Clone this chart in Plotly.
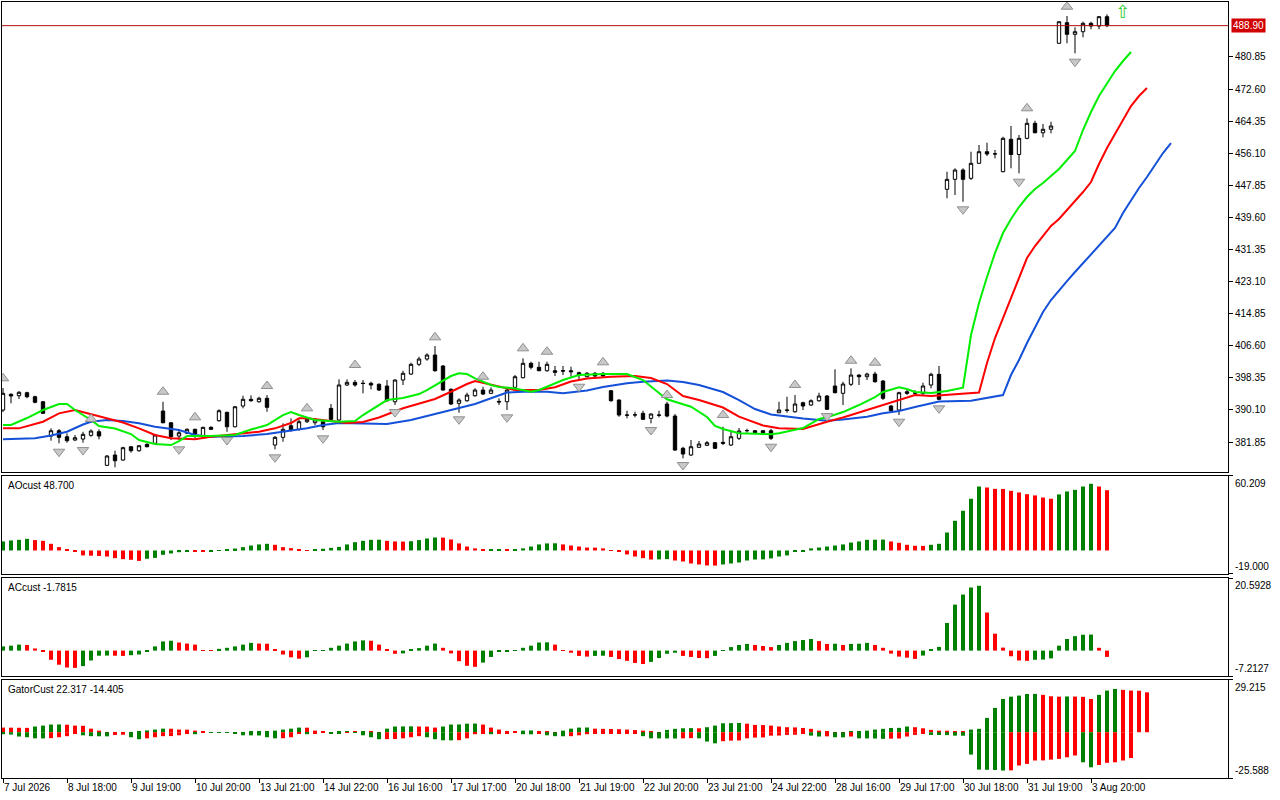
import plotly.graph_objects as go
from plotly.subplots import make_subplots

# ---------------- price data (one candle per bar index) ----------------
opens = [390.08, 394.12, 393.76, 394.53, 393.50, 392.21, 383.39, 384.76, 383.21, 382.37,
         382.62, 383.57, 384.50, 375.86, 378.51, 377.22, 380.64, 379.62, 381.26, 381.52,
         389.82, 386.81, 383.39, 384.09, 385.12, 383.39, 385.63, 387.33, 389.49, 385.78,
         391.11, 392.83, 392.21, 393.09, 381.08, 383.06, 386.04, 385.12, 387.07, 386.81,
         387.07, 390.51, 387.51, 396.51, 397.20, 396.98, 396.94, 396.69, 396.25, 392.21,
         397.79, 399.33, 401.83, 403.19, 404.22, 401.39, 395.40, 391.80, 392.47, 393.76,
         395.22, 394.37, 392.30, 392.21, 395.91, 398.38, 402.09, 401.06, 400.18, 400.18,
         400.20, 400.18, 399.67, 398.64, 399.52, 399.52, 395.04, 392.65, 388.80, 388.80,
         389.23, 387.94, 388.79, 391.62, 388.53, 380.23, 378.51, 380.49, 381.00, 381.67,
         381.77, 381.08, 382.80, 384.76, 384.76, 384.76, 384.76, 389.38, 390.10, 389.64,
         391.96, 391.36, 392.47, 393.68, 396.25, 394.37, 396.69, 399.07, 398.64, 399.33,
         397.53, 391.11, 390.08, 394.78, 394.40, 394.37, 396.51, 399.26, 446.82, 449.39,
         451.78, 449.65, 453.51, 456.49, 455.90, 451.35, 459.68, 455.77, 459.93, 463.79,
         461.37, 462.25, 484.36, 489.65, 486.67, 487.34, 489.50, 488.80, 491.20]
highs = [395.74, 394.37, 394.96, 394.78, 393.76, 392.39, 385.37, 385.19, 384.09, 383.65,
         384.50, 385.12, 385.12, 378.51, 379.62, 380.64, 380.82, 381.08, 381.52, 383.91,
         392.21, 386.99, 385.12, 385.37, 385.27, 385.78, 385.89, 390.26, 389.64, 391.11,
         393.76, 393.86, 393.50, 393.93, 383.39, 386.66, 387.94, 387.69, 388.28, 388.02,
         387.51, 391.62, 397.97, 397.97, 397.79, 397.79, 397.36, 396.94, 397.79, 397.97,
         400.18, 402.24, 403.78, 404.66, 406.53, 401.65, 395.66, 393.09, 394.53, 395.66,
         396.07, 395.91, 393.09, 396.07, 399.07, 403.37, 402.50, 402.50, 402.50, 401.39,
         401.39, 401.22, 399.93, 399.85, 399.85, 399.85, 395.22, 392.83, 389.90, 389.64,
         389.90, 389.23, 389.90, 392.21, 389.05, 380.64, 382.37, 382.11, 382.11, 381.85,
         385.78, 384.50, 385.45, 385.27, 384.93, 384.93, 385.27, 392.21, 393.50, 393.93,
         392.21, 392.83, 394.53, 393.93, 400.54, 397.36, 400.80, 399.25, 399.67, 399.93,
         397.79, 391.36, 394.78, 395.22, 395.20, 397.10, 399.67, 401.39, 451.35, 452.22,
         452.22, 456.49, 458.21, 458.80, 456.93, 460.34, 463.10, 460.78, 465.07, 464.46,
         463.61, 464.20, 490.00, 491.38, 488.47, 489.91, 489.91, 491.38, 491.81]
lows = [389.56, 391.80, 392.91, 393.09, 391.80, 389.10, 382.19, 381.52, 381.67, 382.11,
        381.67, 383.21, 382.54, 375.68, 375.35, 377.04, 379.10, 379.36, 380.49, 381.34,
        386.66, 382.37, 382.37, 383.91, 382.80, 383.21, 384.93, 387.07, 384.50, 385.63,
        390.51, 392.21, 391.96, 389.64, 379.97, 381.93, 384.50, 384.76, 386.74, 386.22,
        384.93, 387.33, 387.33, 396.25, 396.07, 394.37, 395.40, 394.96, 392.21, 391.36,
        396.51, 399.07, 401.39, 402.75, 399.93, 395.04, 391.36, 389.38, 392.21, 393.50,
        393.93, 394.19, 391.36, 390.08, 395.66, 398.23, 400.54, 400.10, 399.93, 398.82,
        399.07, 398.64, 397.79, 398.47, 398.47, 398.64, 392.21, 388.35, 387.94, 388.20,
        387.51, 386.66, 388.20, 388.20, 379.60, 377.66, 378.25, 380.31, 380.82, 380.05,
        381.08, 380.82, 382.37, 384.24, 384.16, 384.16, 382.37, 389.38, 389.38, 389.38,
        390.08, 391.11, 392.21, 390.08, 394.37, 391.36, 396.25, 396.51, 397.79, 397.10,
        392.65, 389.64, 388.79, 393.93, 393.70, 393.93, 395.66, 392.65, 444.51, 445.36,
        443.63, 449.21, 453.32, 455.38, 454.79, 451.20, 452.22, 450.93, 459.68, 461.22,
        460.19, 461.22, 484.20, 484.36, 481.79, 485.90, 487.96, 487.96, 488.47]
closes = [394.37, 393.68, 394.63, 393.50, 392.06, 389.23, 384.76, 383.06, 382.19, 382.96,
          383.83, 384.68, 383.39, 378.25, 377.04, 380.39, 379.62, 380.90, 380.64, 383.65,
          386.81, 383.21, 384.24, 385.12, 383.91, 385.63, 385.12, 389.90, 385.78, 390.93,
          392.83, 392.47, 393.09, 390.77, 383.06, 385.12, 384.93, 387.07, 387.69, 387.51,
          385.78, 387.69, 396.51, 397.20, 396.51, 396.90, 396.51, 395.22, 392.47, 397.79,
          399.52, 401.83, 403.19, 404.22, 400.18, 395.22, 391.62, 392.65, 393.93, 395.22,
          394.19, 395.22, 392.15, 395.22, 398.64, 402.09, 401.06, 400.18, 401.83, 399.77,
          400.10, 399.93, 399.07, 399.52, 398.82, 398.82, 392.47, 388.79, 388.75, 388.85,
          387.69, 389.05, 388.75, 388.53, 379.79, 378.76, 380.64, 381.34, 381.67, 380.23,
          381.52, 383.21, 384.68, 384.80, 384.24, 384.24, 382.80, 390.08, 390.00, 391.62,
          391.11, 392.47, 393.68, 390.26, 394.53, 396.76, 399.07, 398.64, 399.33, 397.36,
          393.09, 389.90, 394.53, 394.37, 394.45, 396.25, 399.26, 392.83, 449.39, 451.78,
          449.39, 453.51, 456.49, 455.90, 455.95, 459.93, 455.77, 459.93, 463.79, 461.37,
          462.25, 463.10, 489.91, 486.67, 487.34, 489.50, 488.80, 491.20, 488.90]
bar_index = list(range(len(opens)))

# ---------------- Alligator lines (read at sampled bars) ----------------
lips_index = [0, 1, 3, 5, 7, 8, 9, 11, 12, 14, 16, 17, 19, 21, 22, 23, 26, 29, 31, 33,
              35, 36, 37, 39, 42, 44, 45, 47, 48, 50, 52, 53, 55, 56, 57, 58, 59, 61, 62, 64,
              66, 67, 68, 70, 72, 75, 78, 80, 82, 83, 86, 88, 89, 90, 92, 96, 97, 100, 102, 103,
              105, 107, 109, 110, 112, 113, 114, 116, 118, 120, 121, 122, 123, 124, 125, 126, 127,
              128, 129, 130, 131, 132, 133, 134, 135, 136, 137, 138, 139, 140, 141]
lips_price = [386.22, 386.22, 388.02, 390.08, 391.62, 391.62, 390.08, 387.51, 385.97, 385.32,
              383.91, 382.37, 381.34, 381.08, 382.11, 383.39, 383.39, 383.65, 385.07, 386.22,
              388.79, 389.56, 388.79, 387.51, 387.07, 387.25, 388.79, 391.36, 392.65, 393.16,
              394.19, 395.22, 397.53, 398.82, 399.52, 399.33, 398.23, 396.51, 395.99, 395.61,
              394.78, 395.22, 396.07, 397.79, 399.08, 399.33, 399.33, 397.79, 394.45, 392.83,
              390.93, 388.28, 385.97, 385.19, 384.09, 383.83, 384.09, 385.45, 387.77, 388.20,
              389.56, 391.36, 393.42, 394.71, 395.92, 395.48, 394.71, 394.45, 394.96, 395.81,
              409.36, 417.59, 424.27, 430.44, 435.59, 439.19, 442.27, 444.84, 446.90, 448.44,
              450.24, 452.04, 454.35, 456.67, 462.07, 466.69, 470.81, 474.15, 477.24, 479.81, 482.12]
teeth_index = [0, 2, 5, 7, 9, 11, 12, 15, 17, 19, 21, 24, 26, 28, 30, 32, 34, 36, 37, 38,
               41, 43, 45, 47, 50, 52, 54, 56, 58, 59, 61, 62, 64, 67, 69, 71, 73, 76, 79, 81,
               83, 85, 87, 90, 92, 95, 97, 100, 101, 103, 105, 108, 110, 112, 114, 116, 119, 122,
               123, 124, 125, 126, 127, 128, 129, 130, 131, 132, 133, 134, 135, 136, 137, 138,
               139, 140, 141, 142, 143]
teeth_price = [385.37, 385.37, 387.07, 389.23, 390.08, 389.05, 388.36, 386.87, 385.37, 383.65,
               382.80, 382.55, 383.22, 383.65, 384.09, 384.50, 385.37, 386.74, 387.94, 387.94,
               387.25, 386.74, 386.99, 388.15, 390.52, 391.75, 392.91, 394.78, 396.76, 397.53,
               396.63, 395.99, 395.22, 395.22, 395.92, 397.41, 398.18, 398.64, 398.82, 398.31,
               396.76, 393.68, 392.65, 390.72, 388.36, 386.09, 385.37, 385.19, 385.84, 387.07,
               388.15, 390.08, 391.24, 392.65, 393.94, 393.68, 394.06, 394.58,
               402.16, 408.59, 413.73, 418.87, 424.02, 429.16, 432.24, 434.81, 437.39, 439.19,
               441.50, 443.56, 446.13, 448.70, 453.33, 457.44, 461.04, 464.64, 468.24, 470.81, 472.87]
jaw_index = [0, 2, 4, 6, 8, 10, 11, 13, 15, 17, 19, 22, 24, 26, 30, 33, 36, 38, 40, 42,
             48, 51, 54, 56, 59, 61, 63, 65, 68, 70, 73, 75, 78, 80, 83, 85, 87, 90, 92, 94,
             96, 100, 103, 105, 108, 110, 112, 114, 117, 121, 124, 125, 126, 127, 128, 129, 130,
             131, 132, 133, 134, 135, 136, 137, 138, 139, 140, 141, 142, 143, 144, 145, 146]
jaw_price = [382.55, 382.62, 382.80, 383.52, 384.50, 386.35, 387.07, 387.51, 387.25, 386.66,
             385.79, 384.94, 383.65, 383.22, 383.39, 383.91, 384.68, 385.37, 386.22, 386.74,
             386.48, 387.51, 389.05, 390.08, 391.62, 393.09, 394.58, 394.78, 394.78, 394.37,
             395.09, 395.99, 396.94, 397.36, 397.66, 397.28, 396.51, 394.71, 392.65, 390.34,
             388.92, 387.89, 387.33, 387.64, 388.36, 389.23, 389.82, 390.85, 392.26, 392.47,
             393.42, 393.93, 399.08, 402.93, 407.30, 411.42, 415.27, 418.36, 420.93, 423.24,
             425.56, 427.87, 430.19, 432.50, 434.81, 436.87, 440.73, 444.07, 447.16, 449.98,
             453.07, 456.15, 458.72]

# ---------------- Fractals and signal ----------------
fractal_up_index = [0, 11, 20, 24, 33, 38, 44, 54, 60, 65, 68, 75, 83, 90, 99, 106, 109, 128, 133]
fractal_up_price = [398.23, 387.77, 394.78, 388.20, 396.25, 390.51, 401.65, 408.77, 398.64, 405.94,
                    405.07, 402.34, 393.93, 388.79, 396.51, 402.75, 402.24, 467.65, 493.77]
fractal_down_index = [7, 10, 14, 22, 28, 34, 40, 49, 57, 63, 72, 81, 85, 96, 103, 112, 117, 120, 127, 134]
fractal_down_price = [379.36, 379.79, 373.96, 379.97, 382.37, 377.92, 382.80, 389.56, 387.69, 388.20,
                      396.07, 384.94, 375.94, 380.64, 388.53, 387.07, 390.51, 441.68, 448.77, 479.63]
signal_index = [140]
signal_price = [491.9]

# ---------------- Oscillators ----------------
ao_values = [7.3, 8.1, 8.6, 9.4, 8.4, 7.8, 5.4, 2.7, 0.5, -1.1,
             -4.0, -4.2, -4.4, -4.9, -6.2, -7.0, -7.5, -8.4, -6.7, -6.0,
             -3.5, -2.4, -1.4, -0.6, -0.7, -0.8, -0.5, -0.2, 0.5, 1.6,
             2.7, 4.0, 4.9, 5.4, 4.6, 2.7, 1.9, 0.5, -0.3, 1.1,
             1.4, 2.1, 2.9, 4.9, 6.7, 7.8, 8.6, 8.7, 7.8, 7.3,
             7.2, 7.5, 8.4, 9.7, 10.5, 10.4, 8.9, 5.7, 3.2, 1.7,
             0.5, 0.6, 0.7, 0.6, 0.7, 1.7, 3.2, 4.9, 5.7, 5.8,
             4.9, 4.0, 3.2, 2.4, 2.3, 1.7, -0.3, -0.5, -3.2, -4.9,
             -6.2, -7.3, -7.2, -7.0, -8.1, -8.9, -10.5, -11.3, -12.1, -12.2,
             -11.3, -10.5, -9.7, -8.1, -7.3, -7.2, -6.4, -4.9, -4.0, -1.1,
             -0.6, 1.7, 2.4, 3.2, 4.0, 4.9, 6.4, 7.3, 8.6, 8.7,
             8.8, 7.3, 6.2, 4.6, 3.8, 3.7, 4.6, 5.4, 14.5, 24.0,
             32.1, 41.8, 51.7, 50.9, 49.8, 49.7, 48.2, 46.9, 45.5, 44.5,
             42.8, 41.8, 45.3, 47.7, 49.0, 51.7, 53.9, 51.7, 48.7]
ac_values = [1.2, 1.4, 1.7, 1.6, 0.6, -0.2, -2.6, -4.0, -4.8, -4.9,
             -4.4, -2.8, -1.45, -1.4, -1.45, -1.5, -1.3, -1.1, -0.2, 1.2,
             2.6, 2.8, 2.3, 2.0, 1.7, 0.1, -0.1, 0.5, 0.8, 1.2,
             1.7, 2.2, 2.0, 1.95, 0.3, -1.1, -1.9, -2.3, -1.9, 0.05,
             0.1, 0.8, 1.4, 2.0, 2.6, 2.9, 2.8, 1.7, 0.3, -0.9,
             -0.8, 0.3, 0.7, 1.4, 2.0, 0.8, -0.8, -3.0, -4.3, -4.6,
             -3.4, -1.8, -0.4, -0.2, 0.1, 0.8, 1.4, 2.3, 2.35, 1.7,
             0.1, -0.6, -1.5, -1.7, -1.5, -1.45, -1.8, -2.4, -2.9, -3.5,
             -3.8, -3.2, -2.1, -0.9, -0.6, -1.5, -1.8, -2.1, -2.15, -1.5,
             0.15, 1.0, 1.6, 1.9, 1.6, 1.3, 1.0, 1.6, 2.2, 2.7,
             3.0, 3.3, 2.7, 1.9, 1.95, 1.6, 1.9, 1.95, 2.2, 1.6,
             0.8, -0.85, -1.7, -2.0, -2.35, -1.4, 0.25, 1.05, 7.85, 13.05,
             15.9, 17.9, 18.4, 10.8, 4.8, 0.85, -1.6, -2.8, -2.9, -2.6,
             -2.55, -2.2, 1.4, 3.3, 4.1, 4.5, 4.55, 0.8, -1.7815]
gator_upper = [2.6, 2.55, 2.5, 2.45, 3.2, 3.7, 4.3, 4.35, 4.2, 3.7,
               3.6, 2.0, 0.9, 0.1, 0.05, 0.04, 0.1, 0.3, 1.0, 1.5,
               2.0, 1.95, 1.5, 1.45, 0.9, 0.3, 0.1, 0.04, 0.05, 0.06,
               0.1, 0.15, 0.4, 0.5, 0.9, 1.5, 2.0, 2.6, 2.55, 0.9,
               0.4, 0.1, 0.15, 0.3, 0.2, 0.4, 0.2, 0.1, 2.0, 3.2,
               3.25, 3.3, 3.2, 3.15, 2.6, 3.2, 4.3, 4.35, 4.8, 4.85,
               4.3, 2.6, 1.5, 0.4, 0.35, 0.9, 1.0, 0.4, 0.35, 0.1,
               0.9, 2.0, 2.6, 2.65, 2.0, 1.9, 1.8, 1.7, 1.5, 1.2,
               0.9, 0.4, 0.1, 1.3, 1.9, 2.2, 2.3, 2.2, 2.8, 3.7,
               5.0, 5.1, 5.2, 4.8, 4.1, 4.0, 3.7, 3.2, 2.8, 2.7,
               2.4, 1.9, 0.9, 0.4, 0.1, 0.05, 0.4, 0.6, 0.9, 1.5,
               1.9, 2.4, 2.45, 3.2, 2.8, 2.2, 1.3, 0.9, 0.85, 0.5,
               0.3, 1.5, 1.9, 8.0, 13.6, 18.6, 19.9, 20.5, 21.4, 21.45,
               20.9, 20.1, 19.9, 20.0, 19.95, 19.8, 18.6, 20.9, 23.3, 24.2,
               23.7, 23.3, 23.2, 22.317]
gator_lower = [1.1, 1.3, 2.4, 2.8, 3.4, 3.45, 3.3, 2.8, 2.2, 0.6,
               1.7, 2.2, 2.25, 2.3, 1.5, 1.4, 2.8, 3.9, 3.4, 2.8,
               2.2, 2.15, 1.7, 0.6, 1.1, 0.2, 0.3, 0.35, 0.4, 0.45,
               1.7, 1.75, 1.8, 2.8, 3.4, 3.35, 2.8, 0.6, 1.1, 0.5,
               0.4, 0.45, 0.5, 0.35, 0.4, 1.7, 2.8, 3.9, 3.85, 3.8,
               3.4, 2.8, 2.2, 2.8, 3.9, 4.5, 4.55, 4.45, 3.4, 1.1,
               0.6, 1.1, 0.5, 0.45, 0.4, 1.1, 1.15, 0.5, 1.7, 2.2,
               2.25, 2.2, 1.7, 1.1, 1.0, 0.9, 0.8, 0.7, 0.6, 0.55,
               2.2, 3.4, 3.42, 3.45, 3.5, 3.4, 3.3, 3.4, 5.2, 6.2,
               5.0, 4.7, 4.6, 3.4, 3.0, 2.9, 1.9, 1.85, 1.5, 1.4,
               0.9, 1.9, 2.4, 2.3, 2.8, 2.85, 2.4, 3.4, 3.45, 3.5,
               3.7, 3.6, 3.5, 2.4, 1.5, 0.6, 1.5, 1.55, 1.6, 1.9,
               1.95, 12.5, 20.9, 21.0, 21.1, 21.4, 21.3, 18.6, 17.7, 15.8,
               15.75, 15.3, 14.9, 14.0, 13.0, 16.8, 19.6, 18.3, 17.1, 16.8,
               15.8, 14.405]

# ---------------- Axis labels / scales ----------------
x_label_index = [0, 8, 16, 24, 32, 40, 48, 56, 64, 72, 80, 88, 96, 104, 112, 120, 128, 136]
x_labels = ["7 Jul 2026", "8 Jul 18:00", "9 Jul 19:00", "10 Jul 20:00", "13 Jul 21:00",
            "14 Jul 22:00", "16 Jul 16:00", "17 Jul 17:00", "20 Jul 18:00", "21 Jul 19:00",
            "22 Jul 20:00", "23 Jul 21:00", "24 Jul 22:00", "28 Jul 16:00", "29 Jul 17:00",
            "30 Jul 18:00", "31 Jul 19:00", "3 Aug 20:00"]
price_ticks = [381.85, 390.10, 398.35, 406.60, 414.85, 423.10, 431.35, 439.60,
               447.85, 456.10, 464.35, 472.60, 480.85]
price_range = [374.14, 494.98]
ao_scale = [-19.000, 60.209]
ac_scale = [-7.2127, 20.5928]
gator_scale = [-25.588, 29.215]

GREEN = "#008000"
RED = "#ff0000"
FONT = "Liberation Sans"


def trend_colors(vals, first):
    out = [first]
    for prev, cur in zip(vals, vals[1:]):
        out.append(GREEN if cur > prev else RED)
    return out


fig = make_subplots(rows=4, cols=1, shared_xaxes=False, vertical_spacing=0.0)

# main panel
fig.add_trace(go.Candlestick(
    x=bar_index, open=opens, high=highs, low=lows, close=closes,
    increasing=dict(fillcolor="white", line=dict(color="black", width=1)),
    decreasing=dict(fillcolor="black", line=dict(color="black", width=1)),
    whiskerwidth=0, hoverinfo="skip", showlegend=False), row=1, col=1)
fig.add_trace(go.Scatter(x=jaw_index, y=jaw_price, mode="lines",
                         line=dict(color="#1450d8", width=2), hoverinfo="skip"), row=1, col=1)
fig.add_trace(go.Scatter(x=teeth_index, y=teeth_price, mode="lines",
                         line=dict(color="#ff0000", width=2), hoverinfo="skip"), row=1, col=1)
fig.add_trace(go.Scatter(x=lips_index, y=lips_price, mode="lines",
                         line=dict(color="#00ee00", width=2), hoverinfo="skip"), row=1, col=1)
fig.add_trace(go.Scatter(x=fractal_up_index, y=fractal_up_price, mode="markers",
                         marker=dict(symbol="triangle-up", size=10, color="#c8c8c8",
                                     line=dict(color="#909090", width=1)),
                         hoverinfo="skip"), row=1, col=1)
fig.add_trace(go.Scatter(x=fractal_down_index, y=fractal_down_price, mode="markers",
                         marker=dict(symbol="triangle-down", size=10, color="#c8c8c8",
                                     line=dict(color="#909090", width=1)),
                         hoverinfo="skip"), row=1, col=1)
fig.add_trace(go.Scatter(x=signal_index, y=signal_price, mode="text", text=["\u21e7"],
                         textposition="middle center", cliponaxis=False,
                         textfont=dict(family="DejaVu Sans", size=18, color="#2ecc2e"),
                         hoverinfo="skip"), row=1, col=1)

# AO
fig.add_trace(go.Bar(x=bar_index, y=ao_values, width=0.5,
                     marker=dict(color=trend_colors(ao_values, GREEN), line=dict(width=0)),
                     hoverinfo="skip"), row=2, col=1)
# AC
fig.add_trace(go.Bar(x=bar_index, y=ac_values, width=0.5,
                     marker=dict(color=trend_colors(ac_values, GREEN), line=dict(width=0)),
                     hoverinfo="skip"), row=3, col=1)
# Gator
fig.add_trace(go.Bar(x=list(range(len(gator_upper))), y=gator_upper, width=0.5,
                     marker=dict(color=trend_colors(gator_upper, RED), line=dict(width=0)),
                     hoverinfo="skip"), row=4, col=1)
fig.add_trace(go.Bar(x=list(range(len(gator_lower))), y=[-v for v in gator_lower], width=0.5,
                     marker=dict(color=trend_colors(gator_lower, GREEN), line=dict(width=0)),
                     hoverinfo="skip"), row=4, col=1)

x_range = [-0.125, 153.125]
common_x = dict(range=x_range, showline=True, linecolor="black", linewidth=1, mirror=True,
                showgrid=False, zeroline=False, fixedrange=True)
common_y = dict(showline=True, linecolor="black", linewidth=1, mirror=True, side="right",
                showgrid=False, zeroline=False, fixedrange=True, ticks="outside", ticklen=4,
                tickcolor="black")

fig.update_layout(
    width=1280, height=800,
    margin=dict(l=2, r=52, t=2, b=22),
    plot_bgcolor="white", paper_bgcolor="white",
    showlegend=False, barmode="overlay", boxgap=0.4, hovermode=False,
    font=dict(family=FONT, size=10, color="black"),
    xaxis=dict(**common_x, showticklabels=False, rangeslider=dict(visible=False)),
    xaxis2=dict(**common_x, showticklabels=False),
    xaxis3=dict(**common_x, showticklabels=False),
    xaxis4=dict(**common_x, tickmode="array", tickvals=x_label_index, ticktext=x_labels,
                ticks="outside", ticklen=4, tickcolor="black",
                ticklabelposition="outside right", tickfont=dict(family=FONT, size=10)),
    yaxis=dict(**common_y, domain=[0.3943, 1.0], range=price_range, tickmode="array",
               tickvals=price_ticks, ticktext=[f"{v:.2f}" for v in price_ticks],
               tickfont=dict(family=FONT, size=10)),
    yaxis2=dict(**common_y, domain=[0.2629, 0.3892], range=ao_scale, tickmode="array",
                tickvals=ao_scale, showticklabels=False),
    yaxis3=dict(**common_y, domain=[0.1314, 0.2577], range=ac_scale, tickmode="array",
                tickvals=ac_scale, showticklabels=False),
    yaxis4=dict(**common_y, domain=[0.0, 0.1263], range=gator_scale, tickmode="array",
                tickvals=gator_scale, showticklabels=False),
)

# current price line and label
last_close = closes[-1]
fig.add_shape(type="line", xref="x domain", x0=0, x1=1, yref="y", y0=last_close, y1=last_close,
              line=dict(color="#b01010", width=1))
fig.add_annotation(xref="paper", x=1, xanchor="left", xshift=3, yref="y", y=last_close,
                   text=f"{last_close:.2f}", showarrow=False, bgcolor="#d00000",
                   font=dict(family=FONT, size=10, color="white"), borderpad=1)

# sub-panel scale labels
for axis, scale, fmt in (("y2", ao_scale, "{:.3f}"), ("y3", ac_scale, "{:.4f}"),
                         ("y4", gator_scale, "{:.3f}")):
    fig.add_annotation(xref="paper", x=1, xanchor="left", xshift=5, yref=axis, y=scale[1],
                       yanchor="top", text=fmt.format(scale[1]), showarrow=False,
                       font=dict(family=FONT, size=10))
    fig.add_annotation(xref="paper", x=1, xanchor="left", xshift=5, yref=axis, y=scale[0],
                       yanchor="bottom", text=fmt.format(scale[0]), showarrow=False,
                       font=dict(family=FONT, size=10))

# sub-panel titles
titles = [
    ("y2 domain", f"AOcust {ao_values[-1]:.3f}"),
    ("y3 domain", f"ACcust {ac_values[-1]:.4f}"),
    ("y4 domain", f"GatorCust {gator_upper[-1]:.3f} {-gator_lower[-1]:.3f}"),
]
for yref, text in titles:
    fig.add_annotation(xref="paper", x=0, xanchor="left", xshift=4, yref=yref, y=1,
                       yanchor="top", yshift=-2, text=text, showarrow=False,
                       font=dict(family=FONT, size=10))

fig.write_html("out.html", config={"displayModeBar": False},
               post_script="document.body.style.margin='0';")
